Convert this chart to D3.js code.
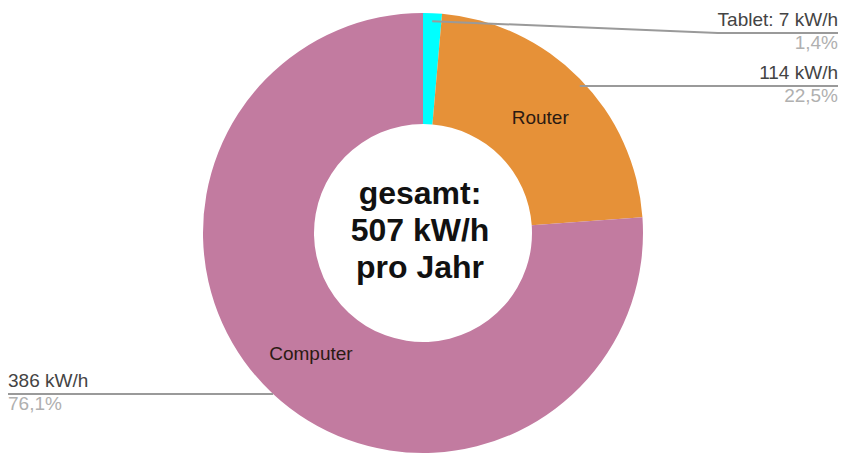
<!DOCTYPE html>
<html>
<head>
<meta charset="utf-8">
<script src="https://cdn.jsdelivr.net/npm/d3@7"></script>
<style>
  body { margin: 0; background: #fff; }
  text { font-family: "Liberation Sans", Arial, sans-serif; }
</style>
</head>
<body>
<div id="chart"></div>
<script>
var devices = ["Tablet", "Router", "Computer"];
var kwh = [7, 114, 386];
var colors = ["#00ffff", "#e69138", "#c27ba0"];
var centerLines = ["gesamt:", "507 kW/h", "pro Jahr"];

var width = 841, height = 456;
var cx = 423, cy = 233, outerR = 220, innerR = 109;

var total = d3.sum(kwh);
var data = devices.map(function(d, i) {
  return { name: d, value: kwh[i], color: colors[i] };
});

var svg = d3.select("#chart").append("svg")
  .attr("width", width)
  .attr("height", height);

var g = svg.append("g")
  .attr("transform", "translate(" + cx + "," + cy + ")");

var pie = d3.pie().sort(null).value(function(d) { return d.value; });
var arc = d3.arc().innerRadius(innerR).outerRadius(outerR);
var arcs = pie(data);

// slices
g.selectAll("path.slice")
  .data(arcs)
  .enter()
  .append("path")
  .attr("class", "slice")
  .attr("d", arc)
  .attr("fill", function(d) { return d.data.color; });

// names inside the big slices
g.selectAll("text.inner")
  .data(arcs.filter(function(d) { return d.endAngle - d.startAngle > 0.5; }))
  .enter()
  .append("text")
  .attr("class", "inner")
  .attr("transform", function(d) { return "translate(" + arc.centroid(d) + ")"; })
  .attr("text-anchor", "middle")
  .attr("dy", "0.35em")
  .attr("font-size", 19)
  .attr("fill", "#2b1a12")
  .text(function(d) { return d.data.name; });

// center text
var ct = g.append("text")
  .attr("text-anchor", "middle")
  .attr("font-size", 32)
  .attr("font-weight", "bold")
  .attr("fill", "#111");
centerLines.forEach(function(t, i) {
  ct.append("tspan")
    .attr("x", -3)
    .attr("y", -29 + i * 37)
    .text(t);
});

// leader lines + labels
var fmt = function(v) { return (v / total * 100).toFixed(1).replace(".", ",") + "%"; };
var lastRightY = -Infinity;
arcs.forEach(function(d, i) {
  var mid = (d.startAngle + d.endAngle) / 2;
  var small = d.endAngle - d.startAngle < 0.5;
  var r = small ? outerR - 8 : outerR;
  var px = cx + r * Math.sin(mid);
  var py = cy - r * Math.cos(mid);
  var right = Math.sin(mid) >= 0;
  var ly = py;
  if (right) {
    ly = Math.max(ly, 33, lastRightY + 53);
    lastRightY = ly;
  }
  var endX = right ? 838 : 8;
  var pts;
  if (small) {
    pts = [[px, py], [endX - 120, ly], [endX, ly]];
  } else {
    pts = [[px, ly], [endX, ly]];
  }
  svg.append("path")
    .attr("d", d3.line()(pts))
    .attr("fill", "none")
    .attr("stroke", "#9a9a9a")
    .attr("stroke-width", 2);

  var name = d.data.name === "Tablet" ? "Tablet: " + d.data.value + " kW/h" : d.data.value + " kW/h";
  svg.append("text")
    .attr("x", endX)
    .attr("y", ly - 7)
    .attr("text-anchor", right ? "end" : "start")
    .attr("font-size", 19)
    .attr("fill", "#444")
    .text(name);
  svg.append("text")
    .attr("x", endX)
    .attr("y", ly + 16)
    .attr("text-anchor", right ? "end" : "start")
    .attr("font-size", 19)
    .attr("fill", "#b0b0b0")
    .text(fmt(d.data.value));
});
</script>
</body>
</html>
